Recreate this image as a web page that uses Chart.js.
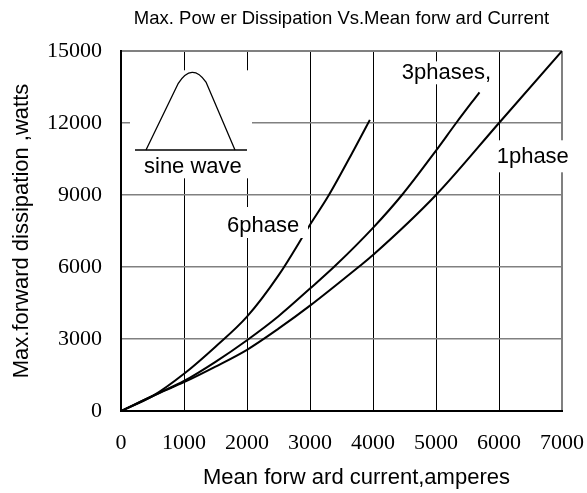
<!DOCTYPE html>
<html><head><meta charset="utf-8">
<script src="https://cdn.jsdelivr.net/npm/chart.js@4"></script>
<style>html,body{margin:0;padding:0;background:#fff;}</style>
</head><body>
<canvas id="c" width="587" height="493"></canvas>
<script>
// ---- data ----
const xTickValues = [0, 1000, 2000, 3000, 4000, 5000, 6000, 7000];
const yTickValues = [0, 3000, 6000, 9000, 12000, 15000];

const phase6Current = [0, 500, 1000, 1500, 2000, 2500, 3000, 3300, 3700, 3950];
const phase6Power   = [0, 620, 1550, 2680, 3930, 5650, 7760, 9000, 10900, 12130];

const phase3Current = [0, 600, 1000, 1500, 2000, 2500, 3000, 3400, 4000, 4460, 5000, 5320, 5690];
const phase3Power   = [0, 750, 1250, 2050, 2950, 3950, 5100, 6050, 7630, 9000, 10850, 12000, 13280];

const phase1Current = [0, 600, 1000, 1500, 2000, 2500, 3000, 3770, 4000, 5000, 6000, 7000];
const phase1Power   = [0, 740, 1200, 1850, 2550, 3430, 4390, 6000, 6500, 9000, 12000, 15000];

const titleText = 'Max. Pow er Dissipation Vs.Mean forw ard Current';
const xTitleText = 'Mean forw ard current,amperes';
const yTitleText = 'Max.forward dissipation ,watts';

// annotation labels: anchor (left/baseline) in data units, white box offsets in px
const labels = [
  {text: '6phase',   x: 1683, y: 7458,  box: [-2, -25, 81, 6]},
  {text: '3phases,', x: 4456, y: 13821, box: [-4, -18, 92, 5]},
  {text: '1phase',   x: 5963, y: 10321, box: [-3, -23, 73, 9]},
  {text: 'sine wave', x: 365, y: 9904,  box: [-14, -103, 108, 5], icon: true}
];

const pts = (xs, ys) => xs.map((v, i) => ({x: v, y: ys[i]}));

const labelFont = '22px "Liberation Sans", Arial, sans-serif';

const annotate = {
  id: 'annotate',
  afterDatasetsDraw(chart) {
    const {ctx, scales: {x, y}} = chart;
    ctx.save();
    labels.forEach(l => {
      const px = x.getPixelForValue(l.x), py = y.getPixelForValue(l.y);
      ctx.fillStyle = '#fff';
      ctx.fillRect(px + l.box[0], py + l.box[1], l.box[2] - l.box[0], l.box[3] - l.box[1]);
      ctx.fillStyle = '#000';
      ctx.font = labelFont;
      ctx.textAlign = 'left';
      ctx.textBaseline = 'alphabetic';
      ctx.fillText(l.text, px, py);
      if (l.icon) {
        ctx.strokeStyle = '#000';
        ctx.lineWidth = 1.3;
        ctx.beginPath();
        ctx.moveTo(px - 9, py - 23.3);
        ctx.lineTo(px + 103, py - 23.3);
        ctx.stroke();
        ctx.beginPath();
        ctx.moveTo(px + 2, py - 23.3);
        ctx.lineTo(px + 34.3, py - 90);
        ctx.quadraticCurveTo(px + 48, py - 111.3, px + 62, py - 91.3);
        ctx.lineTo(px + 91, py - 23.3);
        ctx.stroke();
      }
    });
    // x axis title
    const ca = chart.chartArea;
    ctx.fillStyle = '#000';
    ctx.font = '22px "Liberation Sans", Arial, sans-serif';
    ctx.textAlign = 'center';
    ctx.textBaseline = 'middle';
    ctx.fillText(xTitleText, (ca.left + ca.right) / 2 + 15, 478);
    ctx.restore();
  }
};

const lineStyle = {borderColor: '#000', borderWidth: 2, pointRadius: 0, fill: false,
  cubicInterpolationMode: 'monotone'};

new Chart(document.getElementById('c'), {
  type: 'line',
  data: {
    datasets: [
      Object.assign({label: '6phase', data: pts(phase6Current, phase6Power)}, lineStyle),
      Object.assign({label: '3phases', data: pts(phase3Current, phase3Power)}, lineStyle),
      Object.assign({label: '1phase', data: pts(phase1Current, phase1Power)}, lineStyle)
    ]
  },
  options: {
    responsive: false,
    animation: false,
    layout: {padding: {left: 0, right: 25, top: 0, bottom: 0}},
    plugins: {
      legend: {display: false},
      tooltip: {enabled: false},
      title: {
        display: true, text: titleText, fullSize: false, color: '#000',
        font: {family: '"Liberation Sans", Arial, sans-serif', size: 18.5, weight: 'normal'},
        padding: {top: 8, bottom: 20.8}
      }
    },
    scales: {
      x: {
        type: 'linear', min: 0, max: 7000,
        afterBuildTicks: s => { s.ticks = xTickValues.map(v => ({value: v})); },
        afterFit: s => { s.height = 82; s.paddingRight = 25; },
        ticks: {color: '#000', padding: 19, maxRotation: 0, callback: v => String(v),
          font: {family: '"Liberation Serif", "Times New Roman", serif', size: 22}},
        grid: {drawTicks: false,
          color: c => c.tick && c.tick.value === 7000 ? '#808080' : '#000',
          lineWidth: c => c.tick && c.tick.value === 7000 ? 2 : 1},
        border: {display: true, color: '#000', width: 2}
      },
      y: {
        min: 0, max: 15000,
        afterBuildTicks: s => { s.ticks = yTickValues.map(v => ({value: v})); },
        afterFit: s => { s.width = 121; },
        ticks: {color: '#000', padding: 19, callback: v => String(v),
          font: {family: '"Liberation Serif", "Times New Roman", serif', size: 22}},
        grid: {drawTicks: false, color: '#808080',
          lineWidth: c => c.tick && c.tick.value === 15000 ? 2 : 1.5},
        border: {display: true, color: '#000', width: 2},
        title: {display: true, text: yTitleText, color: '#000',
          font: {family: '"Liberation Sans", Arial, sans-serif', size: 22},
          padding: {top: 8.5, bottom: 0}}
      }
    }
  },
  plugins: [annotate]
});
</script>
</body></html>
